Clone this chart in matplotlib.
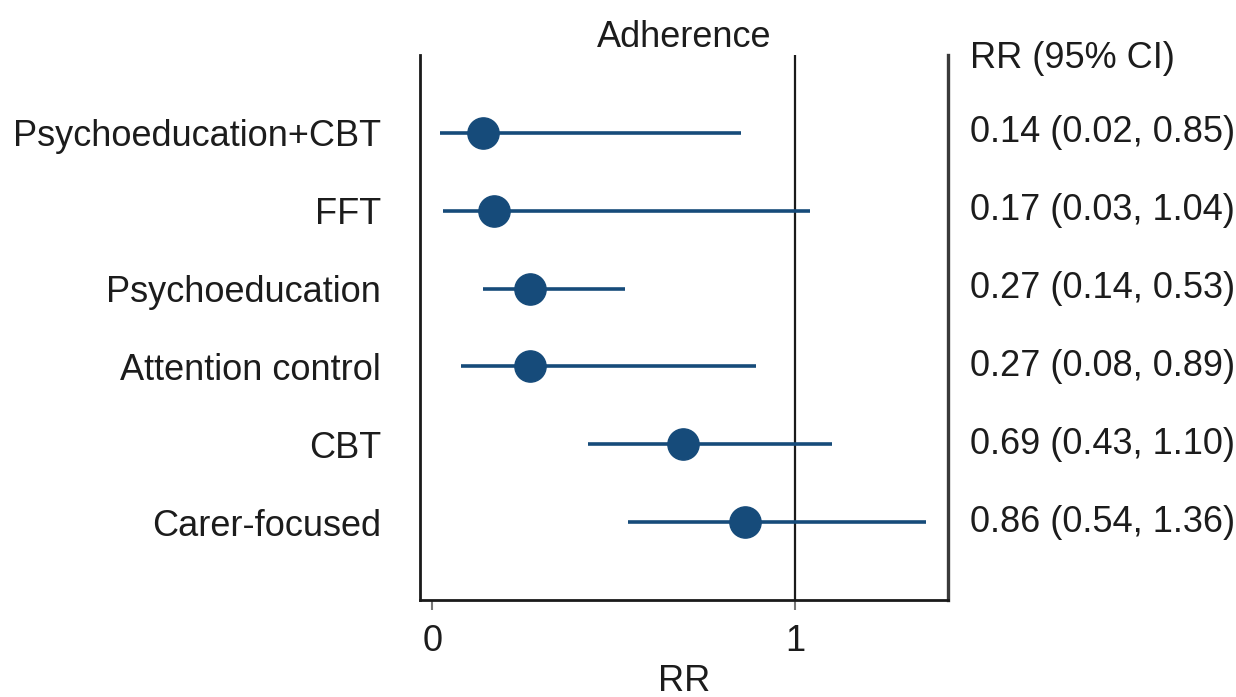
import matplotlib.pyplot as plt

plt.rcParams['font.family'] = ['Liberation Sans', 'DejaVu Sans']

# Relative risk of adherence by intervention
labels = ['Psychoeducation+CBT', 'FFT', 'Psychoeducation',
          'Attention control', 'CBT', 'Carer-focused']
rr = [0.14, 0.17, 0.27, 0.27, 0.69, 0.86]
lower = [0.02, 0.03, 0.14, 0.08, 0.43, 0.54]
upper = [0.85, 1.04, 0.53, 0.89, 1.10, 1.36]

blue = '#164b7a'
txt = '#1c1c1c'

fig = plt.figure(figsize=(12.36, 6.97), dpi=100)
ax = fig.add_axes([0.3398, 0.1392, 0.4272, 0.782])

n = len(labels)
ypos = [n - i for i in range(n)]

ax.axvline(1, color='#1a1a1a', lw=1.6, zorder=1)
ax.hlines(ypos, lower, upper, color=blue, lw=2.6, zorder=2)
ax.plot(rr, ypos, 'o', color=blue, markersize=22.5, zorder=3)

ax.set_xlim(-0.034, 1.42)
ax.set_ylim(0, n + 1)

ax.set_yticks(ypos)
ax.set_yticklabels(labels, fontsize=26, color=txt)
ax.tick_params(axis='y', length=0, pad=28)

ax.set_xticks([0, 1])
ax.set_xticklabels(['0', '1'], fontsize=26, color=txt)
ax.tick_params(axis='x', length=7, width=1.5, color='#777777', pad=10)
ax.set_xlabel('RR', fontsize=26, color=txt, labelpad=4)

ax.set_title('Adherence', fontsize=26, color=txt, pad=6)

ax.spines['top'].set_visible(False)
ax.spines['left'].set_linewidth(2)
ax.spines['left'].set_color('#1a1a1a')
ax.spines['bottom'].set_linewidth(2)
ax.spines['bottom'].set_color('#1a1a1a')
ax.spines['right'].set_linewidth(2.4)
ax.spines['right'].set_color('#3a3a3a')

# RR (95% CI) column on the right
ax.text(1.042, n + 0.96, 'RR (95% CI)', transform=ax.get_yaxis_transform(),
        ha='left', va='center', fontsize=26, color=txt, clip_on=False)
for y, r, lo, hi in zip(ypos, rr, lower, upper):
    ax.text(1.042, y, f'{r:.2f} ({lo:.2f}, {hi:.2f})',
            transform=ax.get_yaxis_transform(), ha='left', va='center',
            fontsize=26, color=txt, clip_on=False)

fig.savefig('out.png', dpi=100)
